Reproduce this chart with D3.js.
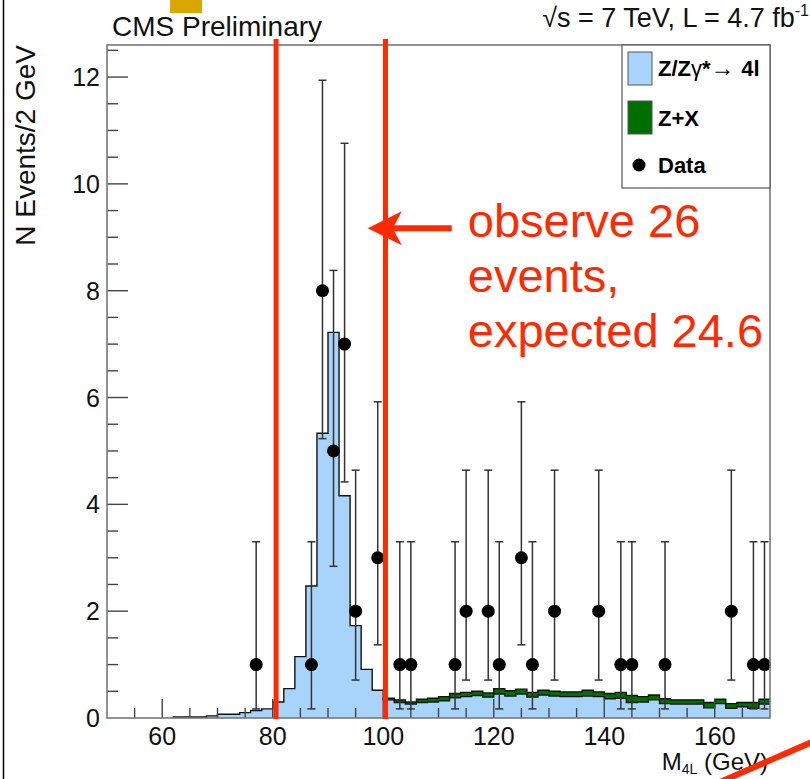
<!DOCTYPE html>
<html>
<head>
<meta charset="utf-8">
<script src="https://cdn.jsdelivr.net/npm/d3@7"></script>
<style>
  body { margin: 0; background: #fff; }
  svg { display: block; font-family: "Liberation Sans", Arial, sans-serif; }
</style>
</head>
<body>
<div id="chart"></div>
<script>
// bin low edges (2 GeV bins) for the MC stack
let binEdges = d3.range(62, 170, 2);
// Z/Zgamma* -> 4l expectation per bin (62..168)
let zzValues = [0.02, 0.02, 0.02, 0.04, 0.07, 0.07, 0.10, 0.14, 0.17,
  0.30, 0.55, 1.15, 2.47, 5.33, 7.22, 4.16, 1.73, 0.91, 0.52,
  0.34, 0.29, 0.26, 0.29, 0.30, 0.32, 0.38, 0.40, 0.42, 0.39,
  0.45, 0.41, 0.45, 0.39, 0.43, 0.41, 0.40, 0.40, 0.41, 0.40,
  0.36, 0.37, 0.29, 0.30, 0.34, 0.27, 0.26, 0.26, 0.26, 0.19,
  0.27, 0.18, 0.21, 0.18, 0.26];
// Z+X, stacked on top, only from 100 GeV
let zxEdges = d3.range(100, 170, 2);
let zxValues = [0.03, 0.05, 0.04, 0.06, 0.07, 0.08, 0.08, 0.08, 0.08, 0.08,
  0.10, 0.10, 0.09, 0.09, 0.09, 0.09, 0.09, 0.09, 0.11, 0.09,
  0.10, 0.11, 0.13, 0.10, 0.09, 0.09, 0.08, 0.08, 0.08, 0.10,
  0.08, 0.09, 0.08, 0.11, 0.09];

// observed events
let dataMass = [77, 87, 89, 91, 93, 95, 99, 103, 105, 113, 115, 119, 121, 125, 127, 131, 139, 143, 145, 151, 163, 167, 169];
let dataCount = [1, 1, 8, 5, 7, 2, 3, 1, 1, 1, 2, 2, 1, 3, 1, 2, 2, 1, 1, 1, 2, 1, 1];
let errLow = {1: 0.17, 2: 0.71, 3: 1.37, 5: 2.84, 7: 4.42, 8: 5.23};
let errHigh = {1: 3.30, 2: 4.64, 3: 5.92, 5: 8.38, 7: 10.76, 8: 11.94};

let xTicks = [60, 80, 100, 120, 140, 160];
let yTicks = [0, 2, 4, 6, 8, 10, 12];
let cutLines = [80.6, 100.4];

let width = 810, height = 779;
let binW = 2;

let svg = d3.select("#chart").append("svg")
  .attr("width", width)
  .attr("height", height);

let x = d3.scaleLinear().domain([50, 170]).range([107, 770]);
let y = d3.scaleLinear().domain([0, 12.6]).range([718, 45]);

// step path helper
function stepLine(edges, vals) {
  let p = "";
  edges.forEach(function(e, i) {
    p += (i === 0 ? "M" : "L") + x(e) + "," + y(vals[i]) + "L" + x(e + binW) + "," + y(vals[i]);
  });
  return p;
}

// blue ZZ histogram
let zzArea = "M" + x(binEdges[0]) + "," + y(0) +
  stepLine(binEdges, zzValues).replace(/^M/, "L") +
  "L" + x(170) + "," + y(0) + "Z";
svg.append("path").attr("d", zzArea).attr("fill", "#a8d4fb").attr("stroke", "none");

// green Z+X band on top of ZZ
let zzUnder = zxEdges.map(function(e) { return zzValues[binEdges.indexOf(e)]; });
let zxTop = zxEdges.map(function(e, i) { return zzUnder[i] + zxValues[i]; });
let bandPts = [];
zxEdges.forEach(function(e, i) { bandPts.push([x(e), y(zxTop[i])], [x(e + binW), y(zxTop[i])]); });
for (let i = zxEdges.length - 1; i >= 0; i--) {
  bandPts.push([x(zxEdges[i] + binW), y(zzUnder[i])], [x(zxEdges[i]), y(zzUnder[i])]);
}
svg.append("path").attr("d", "M" + bandPts.join("L") + "Z").attr("fill", "#006e00");

// outlines
svg.append("path")
  .attr("d", "M" + x(binEdges[0]) + "," + y(0) + stepLine(binEdges, zzValues).replace(/^M/, "L"))
  .attr("fill", "none").attr("stroke", "#111").attr("stroke-width", 1.4);
svg.append("path")
  .attr("d", "M" + x(100) + "," + y(zzUnder[0]) + stepLine(zxEdges, zxTop).replace(/^M/, "L"))
  .attr("fill", "none").attr("stroke", "#111").attr("stroke-width", 1.4);

// ticks, ROOT style (inside the frame)
let axisCol = "#444";
let xMinor = d3.range(55, 170, 5);
svg.append("g").selectAll("line").data(xMinor).enter().append("line")
  .attr("x1", function(d) { return x(d); }).attr("x2", function(d) { return x(d); })
  .attr("y1", y(0))
  .attr("y2", function(d) { return y(0) - (d % 20 === 0 ? 19 : 10); })
  .attr("stroke", axisCol).attr("stroke-width", 1.4);

let yMinor = d3.range(0.5, 12.6, 0.5);
svg.append("g").selectAll("line").data(yMinor).enter().append("line")
  .attr("x1", x(50))
  .attr("x2", function(d) { return x(50) + (d % 2 === 0 ? 21 : 11); })
  .attr("y1", function(d) { return y(d); }).attr("y2", function(d) { return y(d); })
  .attr("stroke", axisCol).attr("stroke-width", 1.4);

// tick labels
svg.append("g").selectAll("text").data(xTicks).enter().append("text")
  .attr("x", function(d) { return x(d); })
  .attr("y", 745)
  .attr("text-anchor", "middle")
  .attr("font-size", 25)
  .attr("fill", "#111")
  .text(function(d) { return d; });

svg.append("g").selectAll("text").data(yTicks).enter().append("text")
  .attr("x", 100)
  .attr("y", function(d) { return y(d) + 9; })
  .attr("text-anchor", "end")
  .attr("font-size", 25)
  .attr("fill", "#111")
  .text(function(d) { return d; });

// data error bars and markers
let pts = dataMass.map(function(m, i) { return {m: m, n: dataCount[i]}; });
let eb = svg.append("g").attr("stroke", "#333").attr("stroke-width", 1.5);
eb.selectAll(".bar").data(pts).enter().append("line")
  .attr("x1", function(d) { return x(d.m); }).attr("x2", function(d) { return x(d.m); })
  .attr("y1", function(d) { return y(errLow[d.n]); })
  .attr("y2", function(d) { return y(Math.min(errHigh[d.n], 12.6)); });
eb.selectAll(".capLo").data(pts).enter().append("line")
  .attr("x1", function(d) { return x(d.m) - 4; }).attr("x2", function(d) { return x(d.m) + 4; })
  .attr("y1", function(d) { return y(errLow[d.n]); })
  .attr("y2", function(d) { return y(errLow[d.n]); });
eb.selectAll(".capHi").data(pts).enter().append("line")
  .attr("x1", function(d) { return x(d.m) - 4; }).attr("x2", function(d) { return x(d.m) + 4; })
  .attr("y1", function(d) { return y(errHigh[d.n]); })
  .attr("y2", function(d) { return y(errHigh[d.n]); });
svg.append("g").selectAll("circle").data(pts).enter().append("circle")
  .attr("cx", function(d) { return x(d.m); })
  .attr("cy", function(d) { return y(d.n); })
  .attr("r", 6.5)
  .attr("fill", "#000");

// frame
svg.append("rect")
  .attr("x", x(50)).attr("y", y(12.6))
  .attr("width", x(170) - x(50)).attr("height", y(0) - y(12.6))
  .attr("fill", "none").attr("stroke", "#777").attr("stroke-width", 1.6);

// legend
let lg = svg.append("g");
lg.append("rect").attr("x", 622).attr("y", 45).attr("width", 148).attr("height", 143)
  .attr("fill", "#fff").attr("stroke", "#555").attr("stroke-width", 1.2);
lg.append("rect").attr("x", 628).attr("y", 52).attr("width", 24).attr("height", 33)
  .attr("fill", "#a8d4fb").attr("stroke", "#555").attr("stroke-width", 1);
lg.append("rect").attr("x", 628).attr("y", 101).attr("width", 24).attr("height", 33)
  .attr("fill", "#006e00").attr("stroke", "#555").attr("stroke-width", 1);
lg.append("circle").attr("cx", 639).attr("cy", 165).attr("r", 6.5).attr("fill", "#000");
let t1 = lg.append("text").attr("x", 658).attr("y", 76).attr("font-size", 22).attr("font-weight", "bold");
t1.append("tspan").text("Z/Z");
t1.append("tspan").attr("font-weight", "normal").text("γ");
t1.append("tspan").text("*");
t1.append("tspan").attr("font-weight", "normal").attr("font-size", 24).text("→ ");
t1.append("tspan").text("4l");
lg.append("text").attr("x", 658).attr("y", 126).attr("font-size", 22).attr("font-weight", "bold").text("Z+X");
lg.append("text").attr("x", 658).attr("y", 173).attr("font-size", 22).attr("font-weight", "bold").text("Data");

// headers
svg.append("text").attr("x", 112).attr("y", 36).attr("font-size", 28).attr("fill", "#111").text("CMS Preliminary");
let hdr = svg.append("text").attr("x", 809).attr("y", 27).attr("text-anchor", "end")
  .attr("font-size", 27).attr("fill", "#111");
hdr.append("tspan").text("√s = 7 TeV, L = 4.7 fb");
hdr.append("tspan").attr("font-size", 16).attr("dy", -11).text("-1");

// axis titles
svg.append("text")
  .attr("transform", "translate(35,45) rotate(-90)")
  .attr("text-anchor", "end")
  .attr("font-size", 28).attr("fill", "#111")
  .text("N Events/2 GeV");
let xt = svg.append("text").attr("x", 768).attr("y", 770).attr("text-anchor", "end")
  .attr("font-size", 24).attr("fill", "#111");
xt.append("tspan").text("M");
xt.append("tspan").attr("font-size", 14).attr("dy", 4).text("4L");
xt.append("tspan").attr("dy", -4).text(" (GeV)");

// red annotation: mass window and arrow
let red = "#ff2a00";
svg.append("g").selectAll("line").data(cutLines).enter().append("line")
  .attr("x1", function(d) { return x(d); }).attr("x2", function(d) { return x(d); })
  .attr("y1", 39).attr("y2", 719)
  .attr("stroke", red).attr("stroke-width", 5);

let arrowY = y(9.17);
svg.append("line").attr("x1", x(112.4)).attr("x2", x(98.5))
  .attr("y1", arrowY).attr("y2", arrowY)
  .attr("stroke", red).attr("stroke-width", 6);
svg.append("path")
  .attr("d", "M" + x(97.2) + "," + arrowY + "L" + (x(97.2) + 34) + "," + (arrowY - 17) +
    "L" + (x(97.2) + 25) + "," + arrowY + "L" + (x(97.2) + 34) + "," + (arrowY + 17) + "Z")
  .attr("fill", red);

let note = ["observe 26", "events,", "expected 24.6"];
svg.append("g").selectAll("text").data(note).enter().append("text")
  .attr("x", x(115.3))
  .attr("y", function(d, i) { return 237 + i * 55; })
  .attr("font-size", 47).attr("fill", red)
  .text(function(d) { return d; });

// odds and ends on the slide
svg.append("line").attr("x1", 3.5).attr("x2", 3.5).attr("y1", 0).attr("y2", height)
  .attr("stroke", "#000").attr("stroke-width", 1.5);
svg.append("rect").attr("x", 170).attr("y", 0).attr("width", 32).attr("height", 13).attr("fill", "#d8a800");
svg.append("line").attr("x1", 720).attr("y1", 782).attr("x2", 812).attr("y2", 742)
  .attr("stroke", red).attr("stroke-width", 6);
</script>
</body>
</html>
